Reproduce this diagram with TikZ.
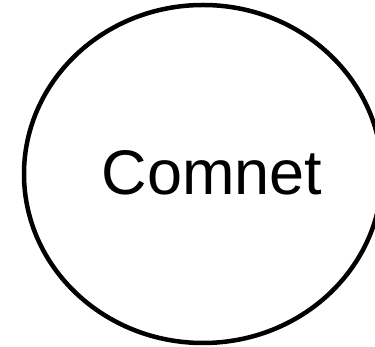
\documentclass[tikz,border=0pt]{standalone}
\usepackage{fontspec}
\setmainfont{Liberation Sans}
\usetikzlibrary{shapes.geometric}
\tikzset{
  ring/.style={ellipse, draw=black, line width=4.5pt, inner sep=0pt, minimum width=358pt, minimum height=338pt},
  label/.style={font=\fontsize{63pt}{72pt}\selectfont, inner sep=0pt, anchor=base}
}
\begin{document}
\begin{tikzpicture}[x=1pt,y=1pt]
\useasboundingbox (0,0) rectangle (375,347);
\clip (0,0) rectangle (375,347);
\node[ring] (e) at (203,173) {};
\node[label] (t) at (212,152) {Comnet};
\end{tikzpicture}
\end{document}
